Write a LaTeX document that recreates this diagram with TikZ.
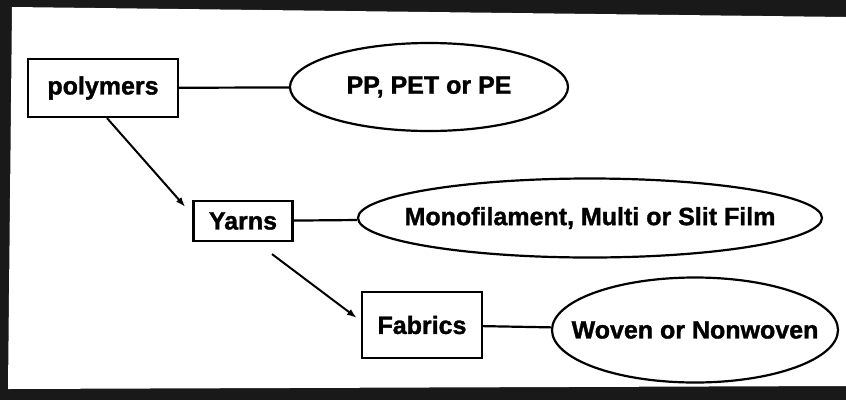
\documentclass[tikz,border=0pt]{standalone}
\usepackage{fontspec}
\setmainfont{Liberation Sans}
\newfontfamily\heavyfont{Liberation Sans Bold}[RawFeature={embolden=1.3}]
\usetikzlibrary{arrows.meta, shapes.geometric}

\begin{document}
\begin{tikzpicture}[
    x=1pt, y=-1pt,
    >={Latex[length=10pt,width=7pt]},
    every node/.style = {font=\heavyfont\fontsize{25}{29}\selectfont},
    item/.style       = {rectangle, draw, line width=2.2pt, inner sep=0pt},
    kind/.style       = {ellipse, draw, line width=2.2pt, inner sep=0pt},
    link/.style       = {line width=2.2pt},
    line/.style       = {->, line width=2pt}
]
\useasboundingbox (0,0) rectangle (846,400);

% Dark frame of the sheet
\fill[black!90] (0,0) rectangle (846,400);
\fill[white] (12,7) -- (846,17) -- (846,386) -- (8,389) -- cycle;

% Materials
\node[item, minimum width=150pt, minimum height=58pt] (poly)    at (103,88)  {polymers};
\node[item, minimum width=99pt,  minimum height=40pt] (yarns)   at (243,221) {Yarns};
\node[item, minimum width=120pt, minimum height=66pt] (fabrics) at (422,325) {Fabrics};

% Their kinds (text kept out of the ellipse size)
\node[kind, minimum width=278pt, minimum height=88pt]  (ppKind)     at (429,87)
    {\makebox[0pt]{PP, PET or PE}};
\node[kind, minimum width=464pt, minimum height=79pt]  (yarnKind)   at (590,218)
    {\makebox[0pt]{Monofilament, Multi or Slit Film}};
\node[kind, minimum width=286pt, minimum height=105pt] (fabricKind) at (695,330)
    {\makebox[0pt]{Woven or Nonwoven}};

\draw[link] (poly) -- (ppKind);
\draw[link] (yarns) -- (yarnKind);
\draw[link] (fabrics) -- (fabricKind);

% Processing steps
\draw[line] ([xshift=4pt]poly.south) -- ([xshift=-7pt, yshift=14pt]yarns.west);
\draw[line] ([xshift=29pt, yshift=-12pt]yarns.south) -- ([xshift=-4pt, yshift=7pt]fabrics.west);

\end{tikzpicture}
\end{document}
